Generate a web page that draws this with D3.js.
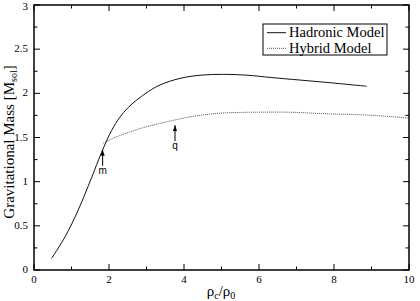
<!DOCTYPE html>
<html lang="en">
<head>
<meta charset="UTF-8">
<title>Gravitational Mass vs central density</title>
<script src="https://d3js.org/d3.v7.min.js"></script>
<style>
  body { margin: 0; background: #fff; }
</style>
</head>
<body>
<svg id="chart" width="420" height="301" font-family="'Liberation Serif', 'Times New Roman', Times, serif"></svg>
<script>
// data
const hadronicX = [0.47, 0.83, 1.18, 1.54, 1.8, 2.07, 2.29, 2.5, 2.74, 3.05, 3.36, 3.9, 4.43, 5.05, 5.7, 6.3, 7.1, 7.9, 8.87];
const hadronicY = [0.132, 0.377, 0.68, 1.05, 1.33, 1.58, 1.73, 1.835, 1.925, 2.02, 2.095, 2.17, 2.205, 2.215, 2.205, 2.18, 2.15, 2.12, 2.08];
const hybridX = [1.85, 2.1, 2.47, 2.9, 3.36, 4.25, 4.96, 5.4, 6.1, 6.83, 7.9, 8.87, 10];
const hybridY = [1.435, 1.49, 1.55, 1.61, 1.66, 1.74, 1.775, 1.783, 1.787, 1.786, 1.767, 1.755, 1.72];
const xTicks = [0, 2, 4, 6, 8, 10];
const yTicks = [0, 0.5, 1, 1.5, 2, 2.5, 3];
const markers = [
  { label: "m", x: 1.83, y: 1.36 },
  { label: "q", x: 3.76, y: 1.64 }
];
const legendLabels = ["Hadronic Model", "Hybrid Model"];

const svg = d3.select("#chart");
const plotL = 34, plotR = 409, plotT = 5, plotB = 270;

const x = d3.scaleLinear().domain([0, 10]).range([plotL, plotR]);
const y = d3.scaleLinear().domain([0, 3]).range([plotB, plotT]);

// frame
svg.append("rect")
  .attr("x", plotL).attr("y", plotT)
  .attr("width", plotR - plotL).attr("height", plotB - plotT)
  .attr("fill", "none").attr("stroke", "#000").attr("stroke-width", 1.5);

// inward ticks on all four sides
const tickG = svg.append("g").attr("stroke", "#000").attr("stroke-width", 1);
d3.range(0, 10.01, 1).forEach(v => {
  const len = v % 2 === 0 ? 6 : 3.5;
  tickG.append("line").attr("x1", x(v)).attr("x2", x(v)).attr("y1", plotB).attr("y2", plotB - len);
  tickG.append("line").attr("x1", x(v)).attr("x2", x(v)).attr("y1", plotT).attr("y2", plotT + len);
});
d3.range(0, 3.01, 0.25).forEach(v => {
  const len = Math.abs(v * 2 - Math.round(v * 2)) < 1e-6 ? 6 : 3.5;
  tickG.append("line").attr("y1", y(v)).attr("y2", y(v)).attr("x1", plotL).attr("x2", plotL + len);
  tickG.append("line").attr("y1", y(v)).attr("y2", y(v)).attr("x1", plotR).attr("x2", plotR - len);
});

// tick labels
svg.append("g").selectAll("text").data(xTicks).join("text")
  .attr("x", d => x(d)).attr("y", plotB + 13)
  .attr("text-anchor", "middle").attr("font-size", 11)
  .text(d => d);
svg.append("g").selectAll("text").data(yTicks).join("text")
  .attr("x", plotL - 6).attr("y", d => Math.max(y(d) + 3, 10))
  .attr("text-anchor", "end").attr("font-size", 11)
  .text(d => d);

// axis titles
const xt = svg.append("text")
  .attr("x", 221).attr("y", 296)
  .attr("text-anchor", "middle").attr("font-size", 15);
xt.append("tspan").text("ρ");
xt.append("tspan").attr("font-size", 10).attr("dy", 3).text("c");
xt.append("tspan").attr("dy", -3).text("/ρ");
xt.append("tspan").attr("font-size", 10).attr("dy", 3).text("0");

const yt = svg.append("text")
  .attr("transform", "translate(14,142) rotate(-90)")
  .attr("text-anchor", "middle").attr("font-size", 15);
yt.append("tspan").text("Gravitational Mass [M");
yt.append("tspan").attr("font-size", 10).attr("dy", 3).text("sol");
yt.append("tspan").attr("dy", -3).text("]");

// curves
const line = d3.line().x(d => x(d[0])).y(d => y(d[1])).curve(d3.curveCatmullRom);
svg.append("path")
  .datum(hadronicX.map((v, i) => [v, hadronicY[i]]))
  .attr("d", line).attr("fill", "none")
  .attr("stroke", "#111").attr("stroke-width", 1);
svg.append("path")
  .datum(hybridX.map((v, i) => [v, hybridY[i]]))
  .attr("d", line).attr("fill", "none")
  .attr("stroke", "#555").attr("stroke-width", 1).attr("stroke-dasharray", "1,1");

// arrows m and q
const defs = svg.append("defs");
defs.append("marker").attr("id", "head")
  .attr("viewBox", "0 0 10 10").attr("refX", 10).attr("refY", 5)
  .attr("markerWidth", 6).attr("markerHeight", 6).attr("orient", "auto")
  .append("path").attr("d", "M0,1.5 L10,5 L0,8.5 Z").attr("fill", "#000");

markers.forEach(m => {
  svg.append("line")
    .attr("x1", x(m.x)).attr("x2", x(m.x))
    .attr("y1", y(m.y) + 16).attr("y2", y(m.y))
    .attr("stroke", "#000").attr("stroke-width", 1)
    .attr("marker-end", "url(#head)");
  svg.append("text")
    .attr("x", x(m.x)).attr("y", y(m.y) + 24)
    .attr("text-anchor", "middle").attr("font-size", 10)
    .attr("font-family", "'Liberation Sans', Arial, sans-serif")
    .text(m.label);
});

// legend
const lg = svg.append("g");
lg.append("rect").attr("x", 263).attr("y", 24).attr("width", 124).attr("height", 31)
  .attr("fill", "#fff").attr("stroke", "#000").attr("stroke-width", 1);
const legTexts = [];
legendLabels.forEach((lab, i) => {
  const ly = 32.7 + i * 15.6;
  lg.append("line").attr("x1", 267).attr("x2", 286).attr("y1", ly).attr("y2", ly)
    .attr("stroke", i === 0 ? "#111" : "#555").attr("stroke-width", 1)
    .attr("stroke-dasharray", i === 0 ? null : "1,1");
  legTexts.push(lg.append("text").attr("x", 289).attr("y", ly + 4.5).attr("font-size", 14.5).text(lab));
});
// shrink legend text so "Hadronic Model" fits inside the box
const w0 = legTexts[0].node().getComputedTextLength();
if (w0 > 96) {
  const fs = 14.5 * 96 / w0;
  legTexts.forEach(t => t.attr("font-size", fs));
}
</script>
</body>
</html>
